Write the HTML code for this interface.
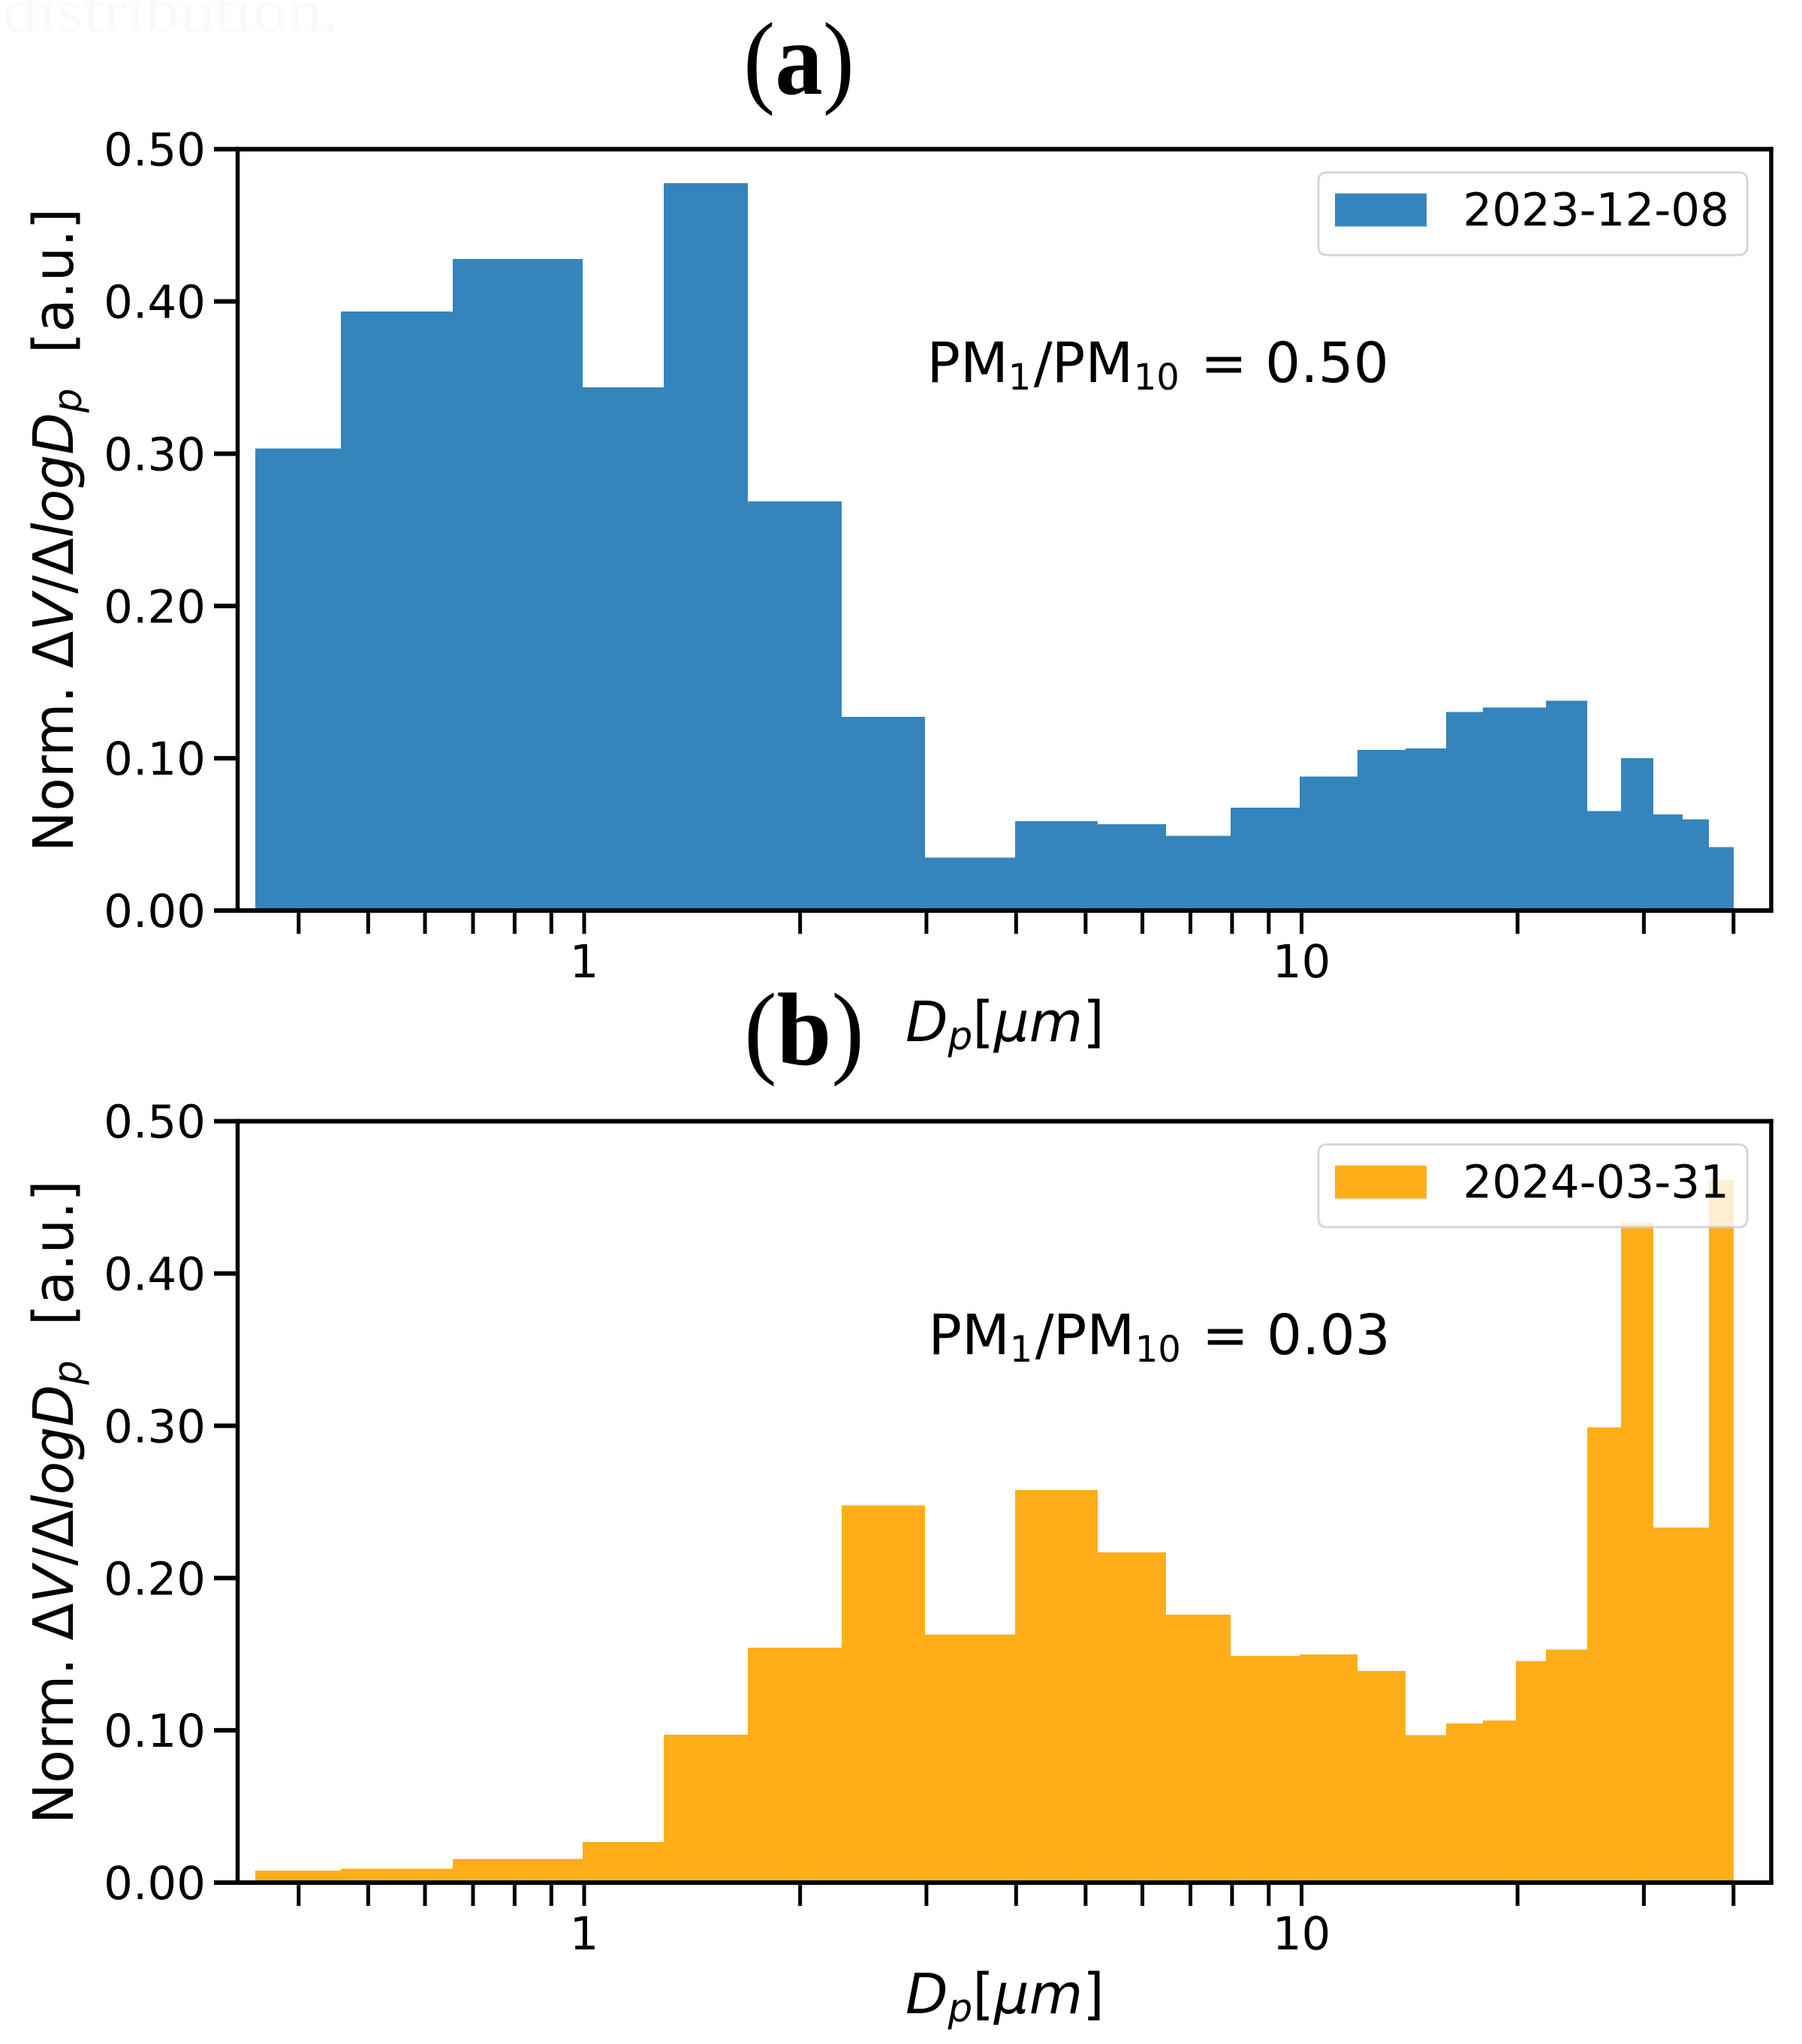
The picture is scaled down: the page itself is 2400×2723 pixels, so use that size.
<!DOCTYPE html>
<html lang="en">
<head>
<meta charset="utf-8">
<title>Normalized volume size distributions</title>
<style>
  html, body { margin: 0; padding: 0; background: #ffffff; }
  svg { display: block; }
  text { font-family: "DejaVu Sans", "Liberation Sans", sans-serif; fill: #000000; white-space: pre; }
  .panel-letter { font-family: "Liberation Serif", "DejaVu Serif", serif; font-weight: normal; font-size: 138px; }
  .panel-letter .bold { font-weight: bold; }
  .ghost { font-family: "Liberation Serif", "DejaVu Serif", serif; font-size: 82px; fill: #f9f9f9; }
  .it { font-style: italic; }
</style>
</head>
<body>
<svg id="figure" xmlns="http://www.w3.org/2000/svg" width="2400" height="2723" viewBox="0 0 2400 2723">
  <rect x="0" y="0" width="2400" height="2723" fill="#ffffff"/>
  <text class="ghost" x="4" y="42" textLength="448" lengthAdjust="spacingAndGlyphs">distribution.</text>
  <text class="panel-letter" x="990" y="125" textLength="148" lengthAdjust="spacingAndGlyphs">(<tspan class="bold">a</tspan>)</text>
  <text class="panel-letter" x="991" y="1418" textLength="160" lengthAdjust="spacingAndGlyphs">(<tspan class="bold">b</tspan>)</text>
  <g id="panel-a"></g>
  <g id="panel-b"></g>
</svg>
<script>
// Chart data
const binEdges = [0.348, 0.458, 0.656, 0.995, 1.291, 1.691, 2.286, 2.984, 3.99, 5.2, 6.48, 7.97, 9.95, 11.97, 13.96, 15.9, 17.9, 19.9, 21.9, 25, 27.9, 30.9, 34, 37, 40];
const seriesDec = [0.3035, 0.3933, 0.4278, 0.3435, 0.4776, 0.2687, 0.1272, 0.0347, 0.0587, 0.0567, 0.0491, 0.0675, 0.0881, 0.1055, 0.1065, 0.1303, 0.1334, 0.1334, 0.1379, 0.0654, 0.1001, 0.0631, 0.0600, 0.0416];
const seriesMar = [0.0080, 0.0092, 0.0156, 0.0265, 0.0970, 0.1543, 0.2476, 0.1628, 0.2578, 0.2169, 0.1760, 0.1489, 0.1499, 0.1390, 0.0969, 0.1045, 0.1065, 0.1455, 0.1531, 0.2989, 0.4333, 0.2331, 0.2331, 0.4614];
const yTickValues = [0, 0.1, 0.2, 0.3, 0.4, 0.5];
const yTickLabels = ['0.00', '0.10', '0.20', '0.30', '0.40', '0.50'];
const xTickValues = [0.4, 0.5, 0.6, 0.7, 0.8, 0.9, 1, 2, 3, 4, 5, 6, 7, 8, 9, 10, 20, 30, 40];
const xLabelValues = [1, 10];
const xLabelTexts = ['1', '10'];
const legendDec = '2023-12-08';
const legendMar = '2024-03-31';
const ratioDec = '0.50';
const ratioMar = '0.03';

const NS = 'http://www.w3.org/2000/svg';
const xOne = 778;
const xDecade = 955.5;
const yRange = 2028.6;
const plotLeft = 316.5;
const plotRight = 2359;

function xScale(d) {
  return xOne + xDecade * Math.log10(d);
}

function make(parent, tag, attrs, content) {
  const el = document.createElementNS(NS, tag);
  for (const k in attrs) el.setAttribute(k, attrs[k]);
  if (content !== undefined) el.textContent = content;
  parent.appendChild(el);
  return el;
}

function drawPanel(groupId, yBottom, values, color, legendText, ratioText, dxRatio) {
  const g = document.getElementById(groupId);
  const yTop = yBottom - 0.5 * yRange;
  const yScale = v => yBottom - v * yRange;

  // histogram bars
  values.forEach((v, i) => {
    const x0 = Math.round(xScale(binEdges[i]));
    const x1 = Math.round(xScale(binEdges[i + 1]));
    const bar = make(g, 'rect', { x: x0, y: yScale(v), width: x1 - x0, height: yBottom - yScale(v), fill: color, 'shape-rendering': 'crispEdges' });
    
    
  });

  // y ticks + labels
  yTickValues.forEach((v, i) => {
    const y = yScale(v);
    const tick = make(g, 'rect', { x: 285, y: y - 3, width: 32, height: 6, fill: '#000' });
    
    
    const label = make(g, 'text', { 'text-anchor': 'end', 'font-size': 61, x: 274, y: y + 22 }, yTickLabels[i]);
    
    
  });

  // x ticks
  xTickValues.forEach(d => {
    const tick = make(g, 'rect', { x: xScale(d) - 2.5, y: yBottom, width: 5, height: 31, fill: '#000' });
    
    
  });
  xLabelValues.forEach((d, i) => {
    const label = make(g, 'text', { 'text-anchor': 'middle', 'font-size': 61, x: xScale(d), y: yBottom + 89 }, xLabelTexts[i]);
    
    
  });

  // spines
  const spines = [
    [plotLeft - 2.75, yTop - 3, 5.5, yBottom - yTop + 6],
    [plotRight - 2.75, yTop - 3, 5.5, yBottom - yTop + 6],
    [plotLeft - 2.75, yTop - 3, plotRight - plotLeft + 5.5, 6],
    [plotLeft - 2.75, yBottom - 3, plotRight - plotLeft + 5.5, 6]
  ];
  spines.forEach(s => {
    const sp = make(g, 'rect', { x: s[0], y: s[1], width: s[2], height: s[3], fill: '#000' });
    
    
  });

  // y axis title
  const yt = make(g, 'text', { 'font-size': 74, transform: 'translate(97,' + (yBottom - 78) + ') rotate(-90) scale(0.983,1)' });
  
  
  make(yt, 'tspan', {}, 'Norm. \u0394');
  make(yt, 'tspan', { class: 'it' }, 'V');
  make(yt, 'tspan', {}, '/\u0394');
  make(yt, 'tspan', { class: 'it' }, 'logD');
  make(yt, 'tspan', { class: 'it', 'font-size': 52, dy: 11 }, 'p');
  make(yt, 'tspan', { dy: -11 }, '\u00a0\u00a0[a.u.]');

  // x axis title
  const xt = make(g, 'text', { 'font-size': 74, transform: 'translate(1206,' + (yBottom + 174) + ') scale(0.992,1)' });
  
  
  make(xt, 'tspan', { class: 'it' }, 'D');
  make(xt, 'tspan', { class: 'it', 'font-size': 52, dy: 11 }, 'p');
  make(xt, 'tspan', { dy: -11 }, '[');
  make(xt, 'tspan', { class: 'it' }, '\u03bcm');
  make(xt, 'tspan', {}, ']');

  // PM ratio annotation
  const base = yBottom - 704;
  const pm = make(g, 'text', { 'font-size': 74, y: base });
  
  
  make(pm, 'tspan', { x: 1234.4 + dxRatio }, 'PM');
  make(pm, 'tspan', { x: 1342.7 + dxRatio, 'font-size': 48, dy: 10 }, '1');
  make(pm, 'tspan', { x: 1376.7 + dxRatio, dy: -10 }, '/');
  make(pm, 'tspan', { x: 1400.8 + dxRatio }, 'PM');
  make(pm, 'tspan', { x: 1509.7 + dxRatio, 'font-size': 48, dy: 10 }, '10');
  make(pm, 'tspan', { x: 1598.9 + dxRatio, dy: -10 }, '=');
  make(pm, 'tspan', { x: 1685 + dxRatio }, ratioText);

  // legend
  const lg = make(g, 'g', {});
  
  
  const ly = yTop + 31;
  const frame = make(lg, 'rect', { x: 1756, y: ly, width: 571, height: 110, rx: 10, ry: 10, fill: '#ffffff', 'fill-opacity': 0.8, stroke: '#cccccc', 'stroke-opacity': 0.8, 'stroke-width': 3 });
  
  
  const swatch = make(lg, 'rect', { x: 1778, y: ly + 28, width: 122, height: 44, fill: color });
  
  
  const lt = make(lg, 'text', { 'font-size': 61, x: 1948.4, y: ly + 71 }, legendText);
  
  
}

drawPanel('panel-a', 1213, seriesDec, '#3585BC', legendDec, ratioDec, 0);
drawPanel('panel-b', 2508, seriesMar, '#FFAE1A', legendMar, ratioMar, 2);
</script>
</body>
</html>
